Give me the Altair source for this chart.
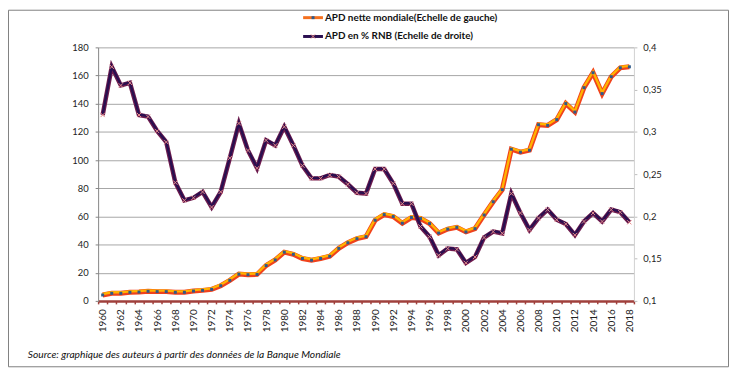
import altair as alt
import pandas as pd

years = list(range(1960, 2019))
apd_nette = [4.2, 5.4, 5.4, 6.1, 6.3, 6.8, 6.6, 6.6, 6.1, 6.1,
             7.0, 7.5, 8.2, 10.8, 14.6, 19.0, 18.6, 18.8, 25.1, 29.1,
             34.6, 33.1, 30.1, 28.9, 30.1, 31.7, 37.3, 41.3, 44.2, 45.6,
             57.3, 61.3, 59.9, 55.2, 59.2, 58.5, 54.9, 48.2, 51.0, 52.2,
             49.0, 51.3, 61.0, 70.4, 79.0, 107.7, 105.6, 107.0, 125.1, 124.6,
             128.7, 140.1, 134.1, 151.4, 162.0, 147.2, 159.2, 165.5, 166.2]
apd_pct_rnb = [0.320, 0.377, 0.355, 0.358, 0.320, 0.318, 0.301, 0.288, 0.240, 0.219,
               0.222, 0.229, 0.211, 0.229, 0.269, 0.310, 0.278, 0.257, 0.290, 0.284,
               0.306, 0.284, 0.260, 0.245, 0.245, 0.249, 0.247, 0.238, 0.228, 0.227,
               0.256, 0.256, 0.239, 0.215, 0.215, 0.188, 0.176, 0.154, 0.162, 0.161,
               0.145, 0.152, 0.175, 0.182, 0.180, 0.227, 0.204, 0.184, 0.198, 0.208,
               0.196, 0.191, 0.178, 0.194, 0.204, 0.194, 0.208, 0.205, 0.193]
series_names = ["APD nette mondiale(Echelle de gauche)", "APD en % RNB (Echelle de droite)"]
source_text = "Source: graphique des auteurs à partir des données de la Banque Mondiale"
left_ticks = [0, 20, 40, 60, 80, 100, 120, 140, 160, 180]
right_ticks = [0.1, 0.15, 0.2, 0.25, 0.3, 0.35, 0.4]

df = pd.DataFrame({"year": years, "apd": apd_nette, "pct": apd_pct_rnb})
one = pd.DataFrame({"k": [0]})

FONT = "Lato"
W, H = 541, 256
tick_vals = [y - 0.5 for y in years] + [years[-1] + 0.5]

x_enc = alt.X(
    "year:Q",
    scale=alt.Scale(domain=[1959.5, 2018.5], nice=False, zero=False),
    axis=alt.Axis(
        values=tick_vals,
        labelExpr="(datum.value + 0.5) % 2 == 0 && datum.value < 2018 ? toString(datum.value + 0.5) : ''",
        labelOffset=W / 59 / 2,
        labelAngle=270,
        labelFlush=False,
        labelOverlap=False,
        labelBound=False,
        labelFont=FONT,
        labelFontSize=10,
        labelColor="#222222",
        labelPadding=5,
        grid=False,
        domainColor="#A0403C",
        domainWidth=2.5,
        tickColor="#A0403C",
        tickWidth=1.5,
        tickSize=3,
        title=None,
    ),
)

y_left = alt.Y(
    "apd:Q",
    scale=alt.Scale(domain=[0, 180], nice=False, zero=False),
    axis=alt.Axis(
        values=left_ticks,
        orient="left",
        labelFont=FONT,
        labelFontSize=9.5,
        labelColor="#222222",
        labelPadding=7,
        tickSize=3,
        tickColor="#868686",
        domainColor="#868686",
        grid=True,
        gridColor="#A6A6A6",
        gridWidth=1,
        title=None,
    ),
)

y_right = alt.Y(
    "pct:Q",
    scale=alt.Scale(domain=[0.1, 0.4], nice=False, zero=False),
    axis=alt.Axis(
        values=right_ticks,
        orient="right",
        labelExpr="replace(format(datum.value, '.2~f'), '.', ',')",
        labelFont=FONT,
        labelFontSize=9.5,
        labelColor="#222222",
        labelPadding=6,
        tickSize=3,
        tickColor="#BDBDBD",
        domainColor="#D0D0D0",
        grid=False,
        title=None,
    ),
)

base = alt.Chart(df)

orange = alt.layer(
    base.mark_line(color="#F0421C", strokeWidth=5).encode(x=x_enc, y=y_left),
    base.mark_line(color="#FFB300", strokeWidth=2.4, yOffset=-1).encode(x=x_enc, y=y_left),
    base.mark_square(size=9, color="#2F5A8A", opacity=1).encode(x=x_enc, y=y_left),
)

xshape = "M-1,-1L1,1M-1,1L1,-1"
purple = alt.layer(
    base.mark_line(color="#6E1C4E", strokeWidth=4.5).encode(x=x_enc, y=y_right),
    base.mark_line(color="#2A0F50", strokeWidth=2.4, yOffset=-0.5).encode(x=x_enc, y=y_right),
    base.mark_point(shape=xshape, size=18, filled=False, strokeWidth=1, color="#E68A8A", opacity=1).encode(x=x_enc, y=y_right),
)

oc = alt.Chart(one)
border = oc.mark_rect(fillOpacity=0, stroke="#7F7F7F", strokeWidth=1).encode(
    x=alt.value(-90.5), x2=alt.value(636.5), y=alt.value(-37.5), y2=alt.value(322.5)
)

leg1_line = oc.mark_rule(color="#F5701E", strokeWidth=3).encode(
    x=alt.value(207), x2=alt.value(227), y=alt.value(-30))
leg1_mark = oc.mark_square(size=9, color="#2F5A8A", opacity=1).encode(
    x=alt.value(217), y=alt.value(-30))
leg1_text = oc.mark_text(align="left", baseline="middle", font=FONT, fontSize=10,
                         fontWeight="bold", color="#111111").encode(
    x=alt.value(229), y=alt.value(-30), text=alt.value(series_names[0]))
leg2_line = oc.mark_rule(color="#2A0F50", strokeWidth=3).encode(
    x=alt.value(207), x2=alt.value(227), y=alt.value(-11))
leg2_mark = oc.mark_point(shape=xshape, size=18, filled=False, strokeWidth=1, color="#E68A8A", opacity=1).encode(
    x=alt.value(217), y=alt.value(-11))
leg2_text = oc.mark_text(align="left", baseline="middle", font=FONT, fontSize=10,
                         fontWeight="bold", color="#111111").encode(
    x=alt.value(229), y=alt.value(-11), text=alt.value(series_names[1]))

src = oc.mark_text(align="left", baseline="middle", font=FONT, fontSize=10.3,
                   fontStyle="italic", color="#111111").encode(
    x=alt.value(-71), y=alt.value(311), text=alt.value(source_text))

chart = alt.layer(
    border, orange, purple, leg1_line, leg1_mark, leg1_text, leg2_line, leg2_mark, leg2_text, src
).resolve_scale(y="independent").properties(
    width=W,
    height=H,
    autosize=alt.AutoSizeParams(type="none"),
    padding={"left": 91, "top": 38, "right": 96, "bottom": 67},
).configure_view(strokeWidth=0)

chart.save("out.html", embed_options={"renderer": "svg", "actions": False})
